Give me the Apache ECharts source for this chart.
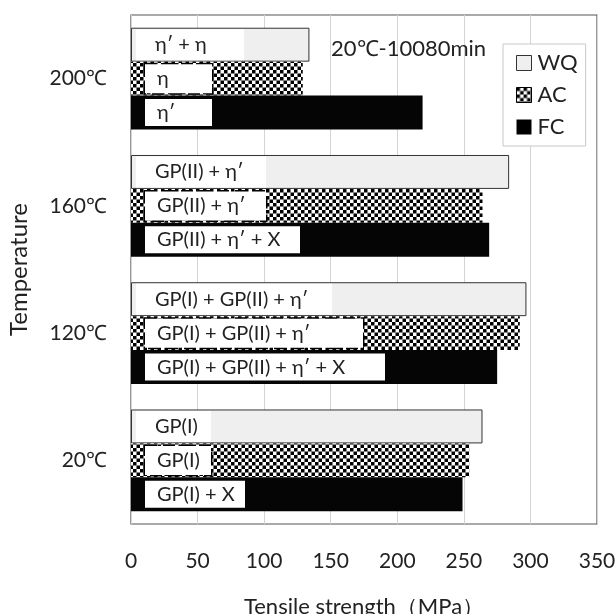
<!DOCTYPE html>
<html>
<head>
<meta charset="utf-8">
<script src="https://cdn.jsdelivr.net/npm/echarts@6/dist/echarts.min.js"></script>
<style>html,body{margin:0;padding:0;background:#fff;overflow:hidden}#c{width:615px;height:614px}</style>
</head>
<body>
<div id="c"></div>
<script>
// ---- data ----
const categories = ['20℃', '120℃', '160℃', '200℃'];
const wqValues = [264, 297, 284, 134];
const acValues = [254, 292, 264, 129];
const fcValues = [249, 275, 269, 219];
const wqLabels = ['GP(I)', 'GP(I) + GP(II) + η′', 'GP(II) + η′', 'η′ + η'];
const acLabels = ['GP(I)', 'GP(I) + GP(II) + η′', 'GP(II) + η′', 'η'];
const fcLabels = ['GP(I) + X', 'GP(I) + GP(II) + η′ + X', 'GP(II) + η′ + X', 'η′'];
const xTicks = [0, 50, 100, 150, 200, 250, 300, 350];
// label box widths (style, px)
const wqBoxW = [75, 196, 130, 108];
const acBoxW = [66, 218, 121, 67];
const fcBoxW = [100, 240, 155, 67];

const FONT = 'Lato, "Open Sans", sans-serif';

// checker pattern
const pc = document.createElement('canvas');
pc.width = 7; pc.height = 7;
const pctx = pc.getContext('2d');
pctx.fillStyle = '#fff'; pctx.fillRect(0, 0, 7, 7);
pctx.fillStyle = '#000'; pctx.fillRect(0, 0, 3.5, 3.5); pctx.fillRect(3.5, 3.5, 3.5, 3.5);
const checker = { image: pc, repeat: 'repeat' };

function mkData(values, labels, widths, padLeft, dist, h, border) {
  return values.map((v, i) => ({
    value: v,
    label: {
      show: true,
      position: 'insideLeft',
      distance: dist,
      formatter: labels[i],
      backgroundColor: '#fff',
      width: widths[i] - padLeft,
      height: h,
      lineHeight: h,
      padding: [0, 0, 0, padLeft],
      align: 'left',
      color: '#222',
      fontSize: 20,
      fontFamily: FONT,
      borderColor: border ? '#000' : 'transparent',
      borderWidth: border ? 1.5 : 0,
      borderType: 'dashed'
    }
  }));
}

const chart = echarts.init(document.getElementById('c'), null, { renderer: 'canvas' });
chart.setOption({
  animation: false,
  backgroundColor: '#fff',
  title: {
    text: '20℃-10080min',
    left: 326, top: 33, z: 10,
    textStyle: { fontSize: 22, fontWeight: 'normal', color: '#222', fontFamily: FONT }
  },
  legend: {
    data: [
      { name: 'WQ', itemStyle: { color: '#efefef', borderColor: '#333', borderWidth: 1 } },
      { name: 'AC', itemStyle: { color: checker, borderColor: '#000', borderWidth: 1 } },
      { name: 'FC', itemStyle: { color: '#000' } }
    ],
    orient: 'vertical',
    left: 503, top: 44,
    width: 84,
    padding: [8, 8, 8, 13],
    itemGap: 10,
    itemWidth: 15, itemHeight: 15,
    icon: 'rect',
    backgroundColor: '#fff',
    borderColor: '#c8c8c8',
    borderWidth: 1,
    textStyle: { fontSize: 22, color: '#222', fontFamily: FONT, padding: [0, 0, 0, 1] }
  },
  grid: {
    left: 131, right: 18, top: 15, bottom: 90,
    outerBoundsMode: 'none',
    containLabel: false,
    show: true, borderColor: '#555', borderWidth: 1.2
  },
  xAxis: {
    type: 'value',
    min: xTicks[0], max: xTicks[xTicks.length - 1], interval: 50,
    name: 'Tensile strength（MPa）',
    nameLocation: 'middle', nameGap: 72,
    nameTextStyle: { fontSize: 22, color: '#222', fontFamily: FONT },
    axisLine: { show: false },
    axisTick: { show: false },
    axisLabel: { fontSize: 21, color: '#222', margin: 27, fontFamily: FONT },
    splitLine: { show: true, lineStyle: { color: '#d4d4d4', width: 1 } }
  },
  yAxis: {
    type: 'category',
    data: categories,
    name: 'Temperature',
    nameLocation: 'middle', nameGap: 100,
    nameTextStyle: { fontSize: 24, color: '#222', fontFamily: FONT },
    axisLine: { show: false },
    axisTick: { show: false },
    axisLabel: { fontSize: 21, color: '#222', margin: 24, fontFamily: FONT },
    splitLine: { show: false }
  },
  series: [
    { name: 'WQ', type: 'bar', barGap: '0%', barCategoryGap: '20%',
      itemStyle: { color: '#efefef', borderColor: '#333', borderWidth: 1 },
      data: mkData(wqValues, wqLabels, wqBoxW, 19, 5, 31, false) },
    { name: 'AC', type: 'bar', barGap: '0%', barCategoryGap: '20%',
      itemStyle: { color: checker },
      data: mkData(acValues, acLabels, acBoxW, 12, 14, 29, true) },
    { name: 'FC', type: 'bar', barGap: '0%', barCategoryGap: '20%',
      itemStyle: { color: '#050505' },
      data: mkData(fcValues, fcLabels, fcBoxW, 12, 14, 27, false) }
  ]
});
</script>
</body>
</html>
